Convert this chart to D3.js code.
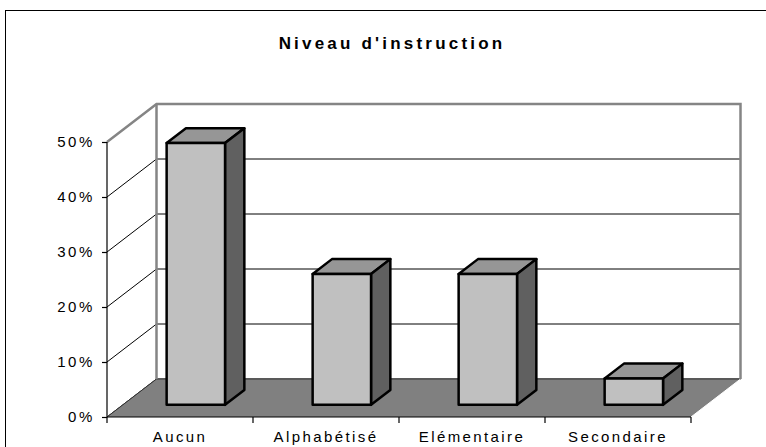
<!DOCTYPE html>
<html lang="fr">
<head>
<meta charset="UTF-8">
<title>Niveau d'instruction</title>
<script src="https://d3js.org/d3.v7.min.js"></script>
<style>
  body { margin: 0; background: #fff; }
  svg text { font-family: "Liberation Sans", Arial, sans-serif; fill: #000; }
  .title { font-size: 17px; font-weight: bold; letter-spacing: 3.2px; }
  .ylab text { font-size: 15px; letter-spacing: 2.6px; }
  .xlab text { font-size: 15px; letter-spacing: 2.4px; }
</style>
</head>
<body>
<div id="chart"></div>
<script>
// data
var categories = ["Aucun", "Alphabétisé", "Elémentaire", "Secondaire"];
var values = [0.476, 0.238, 0.238, 0.048];
var yTicks = [0, 0.1, 0.2, 0.3, 0.4, 0.5];
var title = "Niveau d'instruction";

var W = 766, H = 447;
var depthX = 49.5, depthY = 38;   // full depth offset of the 3d box
var barFront = 0.32, barBack = 0.71;

var svg = d3.select("#chart").append("svg")
    .attr("width", W)
    .attr("height", H);

var x = d3.scaleBand().domain(categories).range([107, 691]);
var y = d3.scaleLinear().domain([0, 0.5]).range([417, 142]);
var barW = x.bandwidth() / 2.5;

// project a point: horizontal pos, value, depth fraction (0 = front, 1 = back)
function P(px, v, f) {
    return [px + f * depthX, y(v) - f * depthY];
}
function poly(pts) { return "M" + pts.map(function(p) { return p.join(","); }).join("L") + "Z"; }

// chart area frame
svg.append("rect")
    .attr("x", 5.5).attr("y", 10.5)
    .attr("width", 800).attr("height", 500)
    .attr("fill", "#fff").attr("stroke", "#000").attr("stroke-width", 1);

svg.append("text")
    .attr("class", "title")
    .attr("x", 392).attr("y", 49)
    .attr("text-anchor", "middle")
    .text(title);

var x0 = x.range()[0], x1 = x.range()[1];
var vMax = y.domain()[1];

// walls
svg.append("path").attr("d", poly([P(x0, 0, 0), P(x0, vMax, 0), P(x0, vMax, 1), P(x0, 0, 1)]))
    .attr("fill", "#fff");
svg.append("path").attr("d", poly([P(x0, 0, 1), P(x0, vMax, 1), P(x1, vMax, 1), P(x1, 0, 1)]))
    .attr("fill", "#fff");

// gridlines on side wall and back wall
var grid = svg.append("g").attr("stroke", "#000").attr("stroke-width", 1).attr("fill", "none");
yTicks.forEach(function(t) {
    grid.append("path").attr("d", "M" + P(x0, t, 0) + "L" + P(x0, t, 1) + "L" + P(x1, t, 1));
});

// floor
svg.append("path").attr("d", poly([P(x0, 0, 0), P(x1, 0, 0), P(x1, 0, 1), P(x0, 0, 1)]))
    .attr("fill", "#808080");
svg.append("path").attr("d", "M" + P(x0, 0, 0) + "L" + P(x0, 0, 1) + "L" + P(x1, 0, 1))
    .attr("fill", "none").attr("stroke", "#333").attr("stroke-width", 1);
svg.append("path").attr("d", "M" + P(x1, 0, 0) + "L" + P(x1, 0, 1))
    .attr("fill", "none").attr("stroke", "#fff").attr("stroke-width", 1);

// wall edges
svg.append("path")
    .attr("d", "M" + P(x0, vMax, 0) + "L" + P(x0, vMax, 1) + "L" + P(x1, vMax, 1) + "L" + P(x1, 0, 1))
    .attr("fill", "none").attr("stroke", "#858585").attr("stroke-width", 2.5);
svg.append("path")
    .attr("d", "M" + P(x0, vMax, 1) + "L" + P(x0, 0, 1))
    .attr("fill", "none").attr("stroke", "#858585").attr("stroke-width", 2.5);

// bars
var bars = svg.selectAll(".bar").data(values).enter().append("g").attr("class", "bar")
    .attr("stroke", "#000").attr("stroke-width", 2.5).attr("stroke-linejoin", "round");

bars.each(function(v, i) {
    var g = d3.select(this);
    var l = x(categories[i]) + (x.bandwidth() - barW) / 2, r = l + barW;
    g.append("path").attr("fill", "#969696")
        .attr("d", poly([P(l, v, barFront), P(r, v, barFront), P(r, v, barBack), P(l, v, barBack)]));
    g.append("path").attr("fill", "#606060")
        .attr("d", poly([P(r, 0, barFront), P(r, v, barFront), P(r, v, barBack), P(r, 0, barBack)]));
    g.append("path").attr("fill", "#c0c0c0")
        .attr("d", poly([P(l, 0, barFront), P(r, 0, barFront), P(r, v, barFront), P(l, v, barFront)]));
});

// y axis
var yAxis = svg.append("g").attr("class", "ylab")
    .attr("transform", "translate(" + x0 + ",0)")
    .call(d3.axisLeft(y).tickValues(yTicks).tickFormat(d3.format(".0%")).tickSize(5).tickPadding(7));
yAxis.selectAll("path, line").attr("stroke", "#000").attr("stroke-width", 1.2);
yAxis.select(".domain").attr("d", "M0," + y(vMax) + "V" + y(0));

// x axis: labels centred, ticks on band boundaries
var xAxis = svg.append("g").attr("class", "xlab")
    .attr("transform", "translate(0," + y(0) + ")")
    .call(d3.axisBottom(x).tickSize(0).tickPadding(14));
xAxis.select(".domain").attr("d", "M" + x0 + ",0H" + x1).attr("stroke", "#000").attr("stroke-width", 1.2);
xAxis.selectAll(".bound").data(categories.map(function(c) { return x(c); }).concat([x1]))
    .enter().append("line").attr("class", "bound")
    .attr("x1", function(d) { return d; }).attr("x2", function(d) { return d; })
    .attr("y1", 0).attr("y2", 6)
    .attr("stroke", "#000").attr("stroke-width", 1.2);
</script>
</body>
</html>
